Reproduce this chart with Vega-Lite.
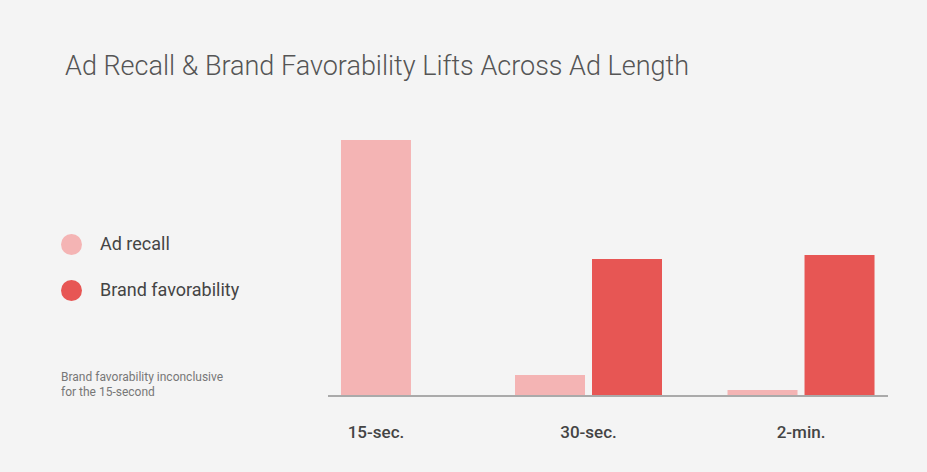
{
  "$schema": "https://vega.github.io/schema/vega-lite/v6.json",
  "width": 560,
  "height": 266,
  "autosize": {"type": "none"},
  "padding": {"left": 328, "top": 130, "right": 39, "bottom": 76},
  "background": "#f4f4f4",
  "title": {
    "text": "Ad Recall & Brand Favorability Lifts Across Ad Length",
    "anchor": "start",
    "frame": "group",
    "dx": -263,
    "offset": 28,
    "baseline": "alphabetic",
    "font": "Roboto",
    "fontSize": 27,
    "fontWeight": 300,
    "color": "#555555"
  },
  "data": {
    "values": [
      {"length": "15-sec.", "metric": "Ad recall", "lift": 25.6},
      {"length": "30-sec.", "metric": "Ad recall", "lift": 2.1},
      {"length": "30-sec.", "metric": "Brand favorability", "lift": 13.7},
      {"length": "2-min.", "metric": "Ad recall", "lift": 0.6},
      {"length": "2-min.", "metric": "Brand favorability", "lift": 14.1}
    ]
  },
  "layer": [
    {
      "mark": {
        "type": "bar",
        "width": 70,
        "xOffset": {"expr": "datum.length === '15-sec.' ? 0 : (datum.metric === 'Ad recall' ? -38.5 : 38.5)"}
      },
      "encoding": {
        "x": {
          "field": "length",
          "type": "nominal",
          "sort": ["15-sec.", "30-sec.", "2-min."],
          "scale": {"range": [-19.5, 540.5], "paddingInner": 0.365, "paddingOuter": 0},
          "axis": {
            "title": null,
            "labelAngle": 0,
            "ticks": false,
            "grid": false,
            "domain": false,
            "labelPadding": 28,
            "labelFont": "Roboto",
            "labelFontSize": 17,
            "labelFontWeight": 500,
            "labelColor": "#444444"
          }
        },
        "y": {
          "field": "lift",
          "type": "quantitative",
          "stack": null,
          "scale": {"domain": [0, 26.6], "nice": false},
          "axis": null
        },
        "color": {
          "field": "metric",
          "type": "nominal",
          "scale": {"domain": ["Ad recall", "Brand favorability"], "range": ["#f4b4b4", "#e75654"]},
          "legend": {
            "title": ["Brand favorability inconclusive", "for the 15-second"],
            "titleOrient": "bottom",
            "titleAnchor": "start",
            "titlePadding": 71,
            "titleFont": "Roboto",
            "titleFontSize": 12,
            "titleFontWeight": "normal",
            "titleColor": "#777777",
            "titleLineHeight": 15,
            "orient": "none",
            "legendX": -267,
            "legendY": 104,
            "padding": 0,
            "symbolType": "circle",
            "symbolSize": 441,
            "symbolStrokeWidth": 0,
            "symbolOpacity": 1,
            "labelFont": "Roboto",
            "labelFontSize": 18,
            "labelColor": "#444444",
            "labelOffset": 18,
            "rowPadding": 25
          }
        }
      }
    },
    {
      "mark": {"type": "rule", "color": "#aaaaaa", "strokeWidth": 1.5},
      "encoding": {"y": {"datum": 0}}
    }
  ],
  "config": {"view": {"stroke": null}}
}
